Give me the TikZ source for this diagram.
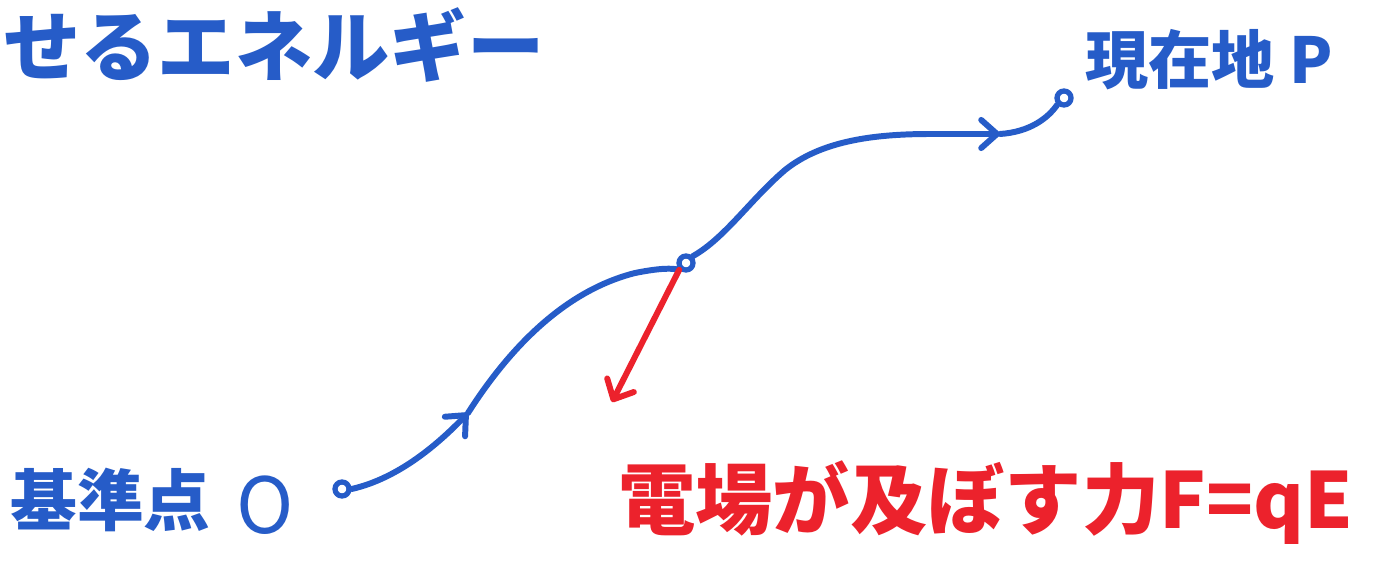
\documentclass[tikz,border=0pt]{standalone}
\usepackage{fontspec}
\newfontfamily\jp{Noto Sans CJK JP}
\usetikzlibrary{arrows.meta}
\definecolor{pen}{RGB}{38,92,200}
\definecolor{rpen}{RGB}{236,34,44}
\tikzset{
  bluetxt/.style={text=pen, font=\jp\bfseries\fontsize{44}{52}\selectfont, inner sep=0pt},
  redtxt/.style={text=rpen, font=\jp\bfseries\fontsize{44}{52}\selectfont, inner sep=0pt},
  pathline/.style={draw=pen, line width=3.4pt, line cap=round, line join=round},
  barb/.style={-{Straight Barb[length=9pt,width=16pt,line width=3.4pt,round]}},
  pin/.style={circle, draw=pen, line width=3pt, minimum size=0.28cm, inner sep=0pt},
  force/.style={draw=rpen, line width=3.4pt, line cap=round, -{Straight Barb[length=9pt,width=17pt,line width=3.4pt,round]}}
}
\begin{document}
\begin{tikzpicture}[x=0.02cm,y=-0.02cm]
\useasboundingbox (0,0) rectangle (1381,567);
\fill[white] (0,0) rectangle (1381,567);
% texts
\node[bluetxt, anchor=west] (t1) at (3,45) {せるエネルギー};
\node[bluetxt, anchor=west, font=\jp\bfseries\fontsize{36}{44}\selectfont] (t2) at (1085,60) {現在地 P};
\node[bluetxt, anchor=west, font=\jp\bfseries\fontsize{38}{46}\selectfont] (t3) at (10,500) {基準点};
\node[bluetxt, font=\jp\fontsize{44}{52}\selectfont] (t4) at (265,505) {O};
\node[redtxt, anchor=west] (t5) at (618,503) {電場が及ぼす力F=qE};
% points
\node[pin] (o) at (342,489) {};
\node[pin] (m) at (686,263) {};
\node[pin] (p) at (1064,98) {};
\coordinate (a1) at (468,413);
\coordinate (a2) at (1000,134);
\coordinate (f) at (612,402);
% path
\draw[pathline, barb] (o.east) .. controls (400,478) and (440,442) .. (a1);
\draw[pathline] (a1) .. controls (505,355) and (560,292) .. (635,273) .. controls (660,268) and (672,268) .. (m.south west);
\draw[pathline] (m.north east) .. controls (725,238) and (750,200) .. (785,170) .. controls (820,142) and (870,134) .. (930,134);
\draw[pathline, barb] (930,134) -- (a2);
\draw[pathline] (a2) .. controls (1030,132) and (1048,118) .. (p.south west);
% force
\draw[force] (m.south west) -- (f);
\end{tikzpicture}
\end{document}
